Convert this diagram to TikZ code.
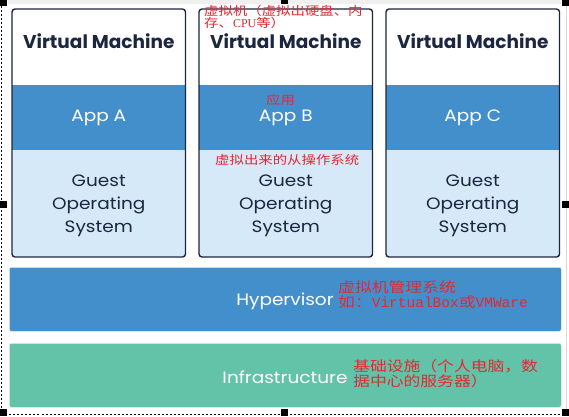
\documentclass[tikz,border=0pt]{standalone}
\usepackage{fontspec}
\setmainfont{Poppins}
\newfontfamily\popwide[FakeStretch=1.12]{Poppins}
\newfontfamily\cjk[FakeStretch=1.2]{Noto Sans CJK SC}
\newfontfamily\cjkmono{Liberation Mono}
\newfontfamily\cjkserif{Liberation Serif}
\definecolor{navy}{RGB}{28,38,64}
\definecolor{appblue}{RGB}{67,143,203}
\definecolor{guestblue}{RGB}{214,233,248}
\definecolor{infragreen}{RGB}{98,195,169}
\definecolor{annred}{RGB}{228,40,48}
\begin{document}
\begin{tikzpicture}[x=1pt,y=-1pt,
  region/.style={draw=none,inner sep=0,anchor=north west,minimum width=173.5pt},
  vmtitle/.style={font=\fontsize{18.5}{20}\selectfont\bfseries,text=navy,inner sep=0},
  apptext/.style={font=\popwide\fontsize{16.5}{18}\selectfont,text=white,inner sep=0},
  guesttext/.style={font=\popwide\fontsize{16.5}{23}\selectfont,text=navy,align=center,inner sep=0},
  vmborder/.style={draw=navy,line width=1.4pt,rounded corners=3pt},
  band/.style={draw=white!85!gray,line width=0.6pt,rounded corners=2pt,inner sep=0,anchor=north west,minimum width=552pt,minimum height=64pt},
  bandtext/.style={font=\popwide\fontsize{16.5}{18}\selectfont,text=white,inner sep=0},
  ann/.style={text=annred,inner sep=0,anchor=west,align=left},
  handle/.style={fill=black,draw=none}]
\useasboundingbox (0,0) rectangle (569,416);
\fill[white] (0,0) rectangle (569,416);
% screenshot frame
\fill[gray!12] (8,0) rectangle (561,3.5);
\draw[gray!30,line width=0.8pt] (566,4) -- (566,410);
\draw[black,line width=0.8pt,dash pattern=on 2pt off 2pt] (1.5,6) -- (1.5,414) -- (566,414);
% virtual machines
\foreach \x/\n/\l in {12/1/A,199/2/B,386/3/C}{
  \begin{scope}
    \clip[rounded corners=3pt] (\x,9) rectangle ++(173.5,248);
    \node[region,fill=white,minimum height=76pt] (hdr\n) at (\x,9) {};
    \node[region,fill=appblue,minimum height=65pt] (app\n) at (\x,85) {};
    \node[region,fill=guestblue,minimum height=107pt] (guest\n) at (\x,150) {};
  \end{scope}
  \draw[vmborder] (\x,9) rectangle ++(173.5,248);
  \node[vmtitle] (vmt\n) at (\x+86.75,41) {Virtual Machine};
  \node[apptext] (appt\n) at (\x+86.75,118) {App \l};
  \node[guesttext] (gos\n) at (\x+86.75,206) {Guest\\Operating\\System};
}
% hypervisor and infrastructure
\node[band,fill=appblue] (hyp) at (9,267) {};
\node[bandtext] (hypt) at (285,301) {Hypervisor};
\node[band,fill=infragreen] (infra) at (9,343) {};
\node[bandtext] (infrat) at (285,377) {Infrastructure};
% annotations
\node[ann,font=\cjk\fontsize{12}{12}\selectfont] (a1) at (204,17) {虚拟机（虚拟出硬盘、内\\存、{\cjkserif CPU}等）};
\node[ann,font=\cjk\fontsize{12}{12}\selectfont] (a2) at (266,100) {应用};
\node[ann,font=\cjk\fontsize{12}{12}\selectfont] (a3) at (215,160) {虚拟出来的从操作系统};
\node[ann,font=\cjk\fontsize{14}{15}\selectfont] (a4) at (338,294.5) {虚拟机管理系统\\如：{\cjkmono\fontsize{14.5}{15}\selectfont VirtualBox}或{\cjkmono\fontsize{14.5}{15}\selectfont VMWare}};
\node[ann,font=\cjk\fontsize{14}{15}\selectfont] (a5) at (353,373.5) {基础设施（个人电脑，数\\据中心的服务器）};
% selection handles
\fill[handle] (0,0) rectangle (7,6);
\fill[handle] (281,0) rectangle (288,4);
\fill[handle] (562,0) rectangle (569,6);
\fill[handle] (0,201) rectangle (7,208);
\fill[handle] (562,201) rectangle (569,208);
\fill[handle] (0,409) rectangle (7,416);
\fill[handle] (281,409) rectangle (288,416);
\fill[handle] (562,409) rectangle (569,416);
\end{tikzpicture}
\end{document}
